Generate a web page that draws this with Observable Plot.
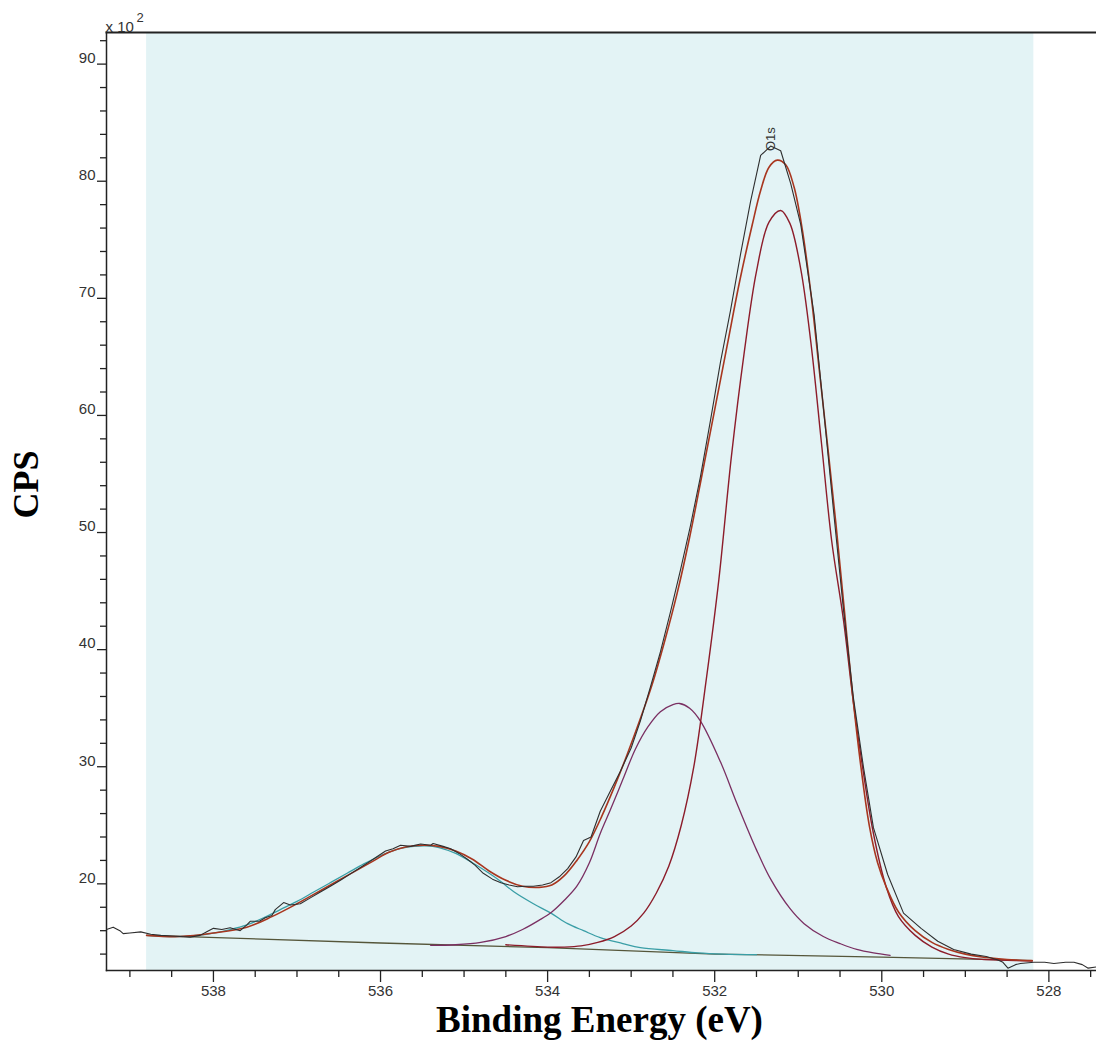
<!DOCTYPE html>
<html>
<head>
<meta charset="utf-8">
<script src="https://cdn.jsdelivr.net/npm/d3@7"></script>
<script src="https://cdn.jsdelivr.net/npm/@observablehq/plot@0.6"></script>
<style>
  html, body { margin: 0; padding: 0; background: #fff; }
  #chart { width: 1096px; height: 1041px; }
</style>
</head>
<body>
<div id="chart"></div>
<script>
// ---- axis extents and ticks (binding energy in eV, intensity in CPS x 10^2)
const xDomain = [539.28, 527.43];
const yDomain = [12.6, 92.7];
const xMajorTicks = [538, 536, 534, 532, 530, 528];
const xMinorTicks = [539, 538.5, 537.5, 537, 536.5, 535.5, 535, 534.5, 533.5, 533, 532.5, 531.5, 531, 530.5, 529.5, 529, 528.5, 527.5];
const yMajorTicks = [20, 30, 40, 50, 60, 70, 80, 90];
const yMinorTicks = [14, 16, 18, 22, 24, 26, 28, 32, 34, 36, 38, 42, 44, 46, 48, 52, 54, 56, 58, 62, 64, 66, 68, 72, 74, 76, 78, 82, 84, 86, 88, 92];

// ---- fitting region (shaded)
const regionStart = [538.8];
const regionEnd = [528.18];

// ---- raw spectrum
const rawE = [539.28, 539.20, 539.12, 539.08, 539.00, 538.87, 538.75, 538.63, 538.50, 538.40, 538.28, 538.16, 538.08, 538.00, 537.90, 537.80, 537.68, 537.60, 537.56, 537.45, 537.38, 537.30, 537.26, 537.16, 537.08, 536.96, 536.84, 536.72, 536.60, 536.48, 536.36, 536.24, 536.12, 535.94, 535.85, 535.76, 535.64, 535.52, 535.40, 535.37, 535.25, 535.16, 535.06, 534.96, 534.87, 534.77, 534.66, 534.56, 534.46, 534.36, 534.26, 534.17, 534.06, 533.96, 533.86, 533.76, 533.66, 533.57, 533.48, 533.37, 533.25, 533.13, 533.00, 532.89, 532.77, 532.65, 532.53, 532.41, 532.29, 532.17, 532.05, 531.93, 531.81, 531.69, 531.57, 531.45, 531.33, 531.21, 531.09, 530.97, 530.81, 530.67, 530.57, 530.46, 530.34, 530.22, 530.10, 529.93, 529.74, 529.53, 529.33, 529.14, 528.93, 528.75, 528.61, 528.55, 528.49, 528.40, 528.34, 528.18, 528.05, 527.94, 527.80, 527.70, 527.60, 527.53, 527.43];
const rawCps = [16.1, 16.3, 16.0, 15.75, 15.8, 15.9, 15.7, 15.6, 15.55, 15.5, 15.45, 15.6, 15.9, 16.2, 16.1, 16.25, 16.0, 16.5, 16.8, 16.8, 17.1, 17.3, 17.8, 18.4, 18.2, 18.3, 18.8, 19.3, 19.8, 20.3, 20.85, 21.4, 21.95, 22.8, 23.0, 23.3, 23.2, 23.4, 23.3, 23.45, 23.2, 23.0, 22.6, 22.1, 21.6, 20.9, 20.4, 20.1, 19.9, 19.75, 19.8, 19.8, 19.9, 20.1, 20.6, 21.3, 22.3, 23.7, 24.0, 26.2, 27.9, 29.6, 31.6, 33.9, 36.8, 39.8, 43.2, 46.8, 50.6, 54.8, 59.6, 64.6, 69.0, 73.8, 78.3, 82.2, 83.0, 82.6, 79.8, 76.3, 68.6, 58.6, 51.3, 43.5, 35.9, 30.0, 24.8, 20.8, 17.5, 16.2, 15.1, 14.4, 14.0, 13.8, 13.5, 13.3, 12.8, 13.1, 13.2, 13.3, 13.3, 13.2, 13.3, 13.3, 13.1, 12.8, 12.9];

// ---- fitted envelope
const envE = [538.80, 538.40, 538.00, 537.60, 537.30, 537.00, 536.70, 536.40, 536.10, 535.90, 535.70, 535.50, 535.30, 535.10, 534.90, 534.70, 534.50, 534.30, 534.10, 533.95, 533.80, 533.65, 533.50, 533.35, 533.20, 533.05, 532.90, 532.75, 532.60, 532.45, 532.30, 532.15, 532.00, 531.85, 531.70, 531.55, 531.45, 531.35, 531.25, 531.15, 531.05, 530.95, 530.85, 530.75, 530.65, 530.55, 530.45, 530.35, 530.25, 530.15, 530.05, 529.95, 529.80, 529.60, 529.40, 529.20, 529.00, 528.80, 528.60, 528.40, 528.20];
const envCps = [15.6, 15.5, 15.8, 16.3, 17.2, 18.3, 19.5, 20.7, 21.9, 22.7, 23.15, 23.3, 23.2, 22.8, 22.1, 21.1, 20.3, 19.8, 19.7, 19.9, 20.7, 22.0, 23.6, 25.8, 28.3, 31.0, 33.9, 37.0, 40.7, 44.8, 49.6, 55.0, 60.5, 66.0, 71.5, 76.3, 79.2, 81.2, 81.8, 81.4, 79.5, 75.8, 70.5, 64.0, 57.5, 50.8, 43.5, 36.2, 30.0, 25.0, 21.8, 19.8, 17.6, 16.0, 15.0, 14.4, 14.0, 13.75, 13.6, 13.5, 13.45];

// ---- component 1 (~535.5 eV)
const peak1E = [538.80, 538.50, 538.20, 538.00, 537.80, 537.60, 537.40, 537.20, 537.00, 536.80, 536.60, 536.40, 536.20, 536.00, 535.80, 535.60, 535.45, 535.30, 535.10, 534.90, 534.70, 534.56, 534.40, 534.17, 533.96, 533.76, 533.57, 533.37, 533.10, 532.89, 532.50, 532.20, 531.90, 531.50];
const peak1Cps = [15.6, 15.5, 15.6, 15.8, 16.1, 16.5, 17.1, 17.8, 18.5, 19.3, 20.1, 20.9, 21.7, 22.4, 22.95, 23.2, 23.25, 23.1, 22.6, 21.8, 20.9, 20.2, 19.3, 18.3, 17.5, 16.6, 16.0, 15.4, 14.9, 14.55, 14.3, 14.1, 14.0, 13.95];

// ---- component 2 (~532.4 eV)
const peak2E = [535.40, 535.10, 534.80, 534.50, 534.30, 534.10, 533.95, 533.80, 533.65, 533.50, 533.37, 533.25, 533.10, 532.95, 532.80, 532.65, 532.50, 532.42, 532.30, 532.17, 531.93, 531.73, 531.50, 531.33, 531.10, 530.93, 530.70, 530.50, 530.30, 530.10, 529.90];
const peak2Cps = [14.75, 14.8, 15.0, 15.5, 16.1, 16.9, 17.6, 18.6, 19.8, 21.8, 24.3, 26.3, 28.9, 31.5, 33.4, 34.7, 35.3, 35.4, 35.0, 33.9, 30.4, 26.8, 22.9, 20.4, 17.9, 16.6, 15.5, 14.9, 14.4, 14.1, 13.9];

// ---- component 3 (~531.2 eV)
const peak3E = [534.50, 534.00, 533.80, 533.60, 533.40, 533.20, 533.00, 532.85, 532.70, 532.55, 532.40, 532.25, 532.10, 531.95, 531.80, 531.65, 531.50, 531.35, 531.21, 531.10, 530.97, 530.85, 530.72, 530.60, 530.46, 530.34, 530.22, 530.10, 529.95, 529.80, 529.60, 529.40, 529.20, 529.00, 528.80, 528.60, 528.40, 528.20];
const peak3Cps = [14.8, 14.6, 14.6, 14.7, 15.0, 15.5, 16.4, 17.5, 19.2, 21.5, 25.0, 30.0, 37.5, 46.0, 56.5, 65.2, 72.3, 76.5, 77.5, 76.4, 72.5, 66.3, 57.5, 49.3, 42.6, 35.5, 29.5, 24.3, 19.8, 17.2, 15.6, 14.6, 14.0, 13.7, 13.55, 13.5, 13.45, 13.4];

// ---- background
const bgE = [538.80, 536.00, 534.00, 532.00, 530.00, 528.20];
const bgCps = [15.6, 14.95, 14.55, 14.0, 13.75, 13.45];

// ---- peak annotation
const annotText = ["O1s"];
const annotE = [531.33];
const annotCps = [83.0];

const toRows = (es, vs) => es.map((e, i) => ({e, v: vs[i]}));
const raw = toRows(rawE, rawCps);
const env = toRows(envE, envCps);
const p1 = toRows(peak1E, peak1Cps);
const p2 = toRows(peak2E, peak2Cps);
const p3 = toRows(peak3E, peak3Cps);
const bg = toRows(bgE, bgCps);
const annot = annotText.map((t, i) => ({t, e: annotE[i], v: annotCps[i]}));
const region = regionStart.map((s, i) => ({s, f: regionEnd[i]}));

const axisColor = "#222";
const tickFont = "Liberation Sans";

const chart = Plot.plot({
  width: 1096,
  height: 1041,
  marginLeft: 106,
  marginRight: 0,
  marginTop: 32,
  marginBottom: 71,
  style: {background: "#fff", fontFamily: tickFont, fontSize: "14px", color: "#333"},
  x: {domain: xDomain, axis: null},
  y: {domain: yDomain, axis: null},
  marks: [
    Plot.rect(region, {x1: "s", x2: "f", fill: "#e3f3f5"}),
    Plot.line(bg, {x: "e", y: "v", stroke: "#55563a", strokeWidth: 1.3}),
    Plot.line(p1, {x: "e", y: "v", stroke: "#3a9ea6", strokeWidth: 1.3, curve: "catmull-rom"}),
    Plot.line(p2, {x: "e", y: "v", stroke: "#7a2f62", strokeWidth: 1.3, curve: "catmull-rom"}),
    Plot.line(p3, {x: "e", y: "v", stroke: "#8c1c2a", strokeWidth: 1.4, curve: "catmull-rom"}),
    Plot.line(env, {x: "e", y: "v", stroke: "#a8361f", strokeWidth: 1.6, curve: "catmull-rom"}),
    Plot.line(raw, {x: "e", y: "v", stroke: "#2e2e2e", strokeWidth: 1.1}),
    Plot.text(annot, {x: "e", y: "v", text: "t", rotate: -90, textAnchor: "start", lineAnchor: "middle", dy: 5, fontSize: 13, fill: "#333", fontFamily: tickFont}),
    // axes lines
    Plot.frame({anchor: "left", stroke: axisColor, strokeWidth: 1.5}),
    Plot.frame({anchor: "bottom", stroke: axisColor, strokeWidth: 1.5}),
    Plot.frame({anchor: "top", stroke: axisColor, strokeWidth: 2}),
    // y ticks
    Plot.axisY(yMinorTicks, {tickSize: 6, fill: "none", stroke: axisColor, strokeWidth: 1.3, label: null}),
    Plot.axisY(yMajorTicks, {tickSize: 9, fill: "none", stroke: axisColor, strokeWidth: 1.3, label: null}),
    Plot.axisY(yMajorTicks, {tickSize: 0, tickPadding: 11, dy: -6, fill: "#333", fontSize: 15, label: null}),
    // x ticks
    Plot.axisX(xMinorTicks, {tickSize: 7, fill: "none", stroke: axisColor, strokeWidth: 1.3, label: null}),
    Plot.axisX(xMajorTicks, {tickSize: 12, fill: "none", stroke: axisColor, strokeWidth: 1.3, label: null}),
    Plot.axisX(xMajorTicks, {tickSize: 0, tickPadding: 15, fill: "#333", fontSize: 15, label: null}),
    // multiplier
    Plot.text(["x 10"], {frameAnchor: "top-left", textAnchor: "start", lineAnchor: "bottom", dx: -1, dy: -1, fontSize: 15, fill: "#333"}),
    Plot.text(["2"], {frameAnchor: "top-left", textAnchor: "start", lineAnchor: "bottom", dx: 30, dy: -11, fontSize: 13, fill: "#333"}),
    // axis titles
    Plot.text(["Binding Energy (eV)"], {frameAnchor: "bottom", lineAnchor: "bottom", dx: -2, dy: 61, fontFamily: "Liberation Serif", fontWeight: "bold", fontSize: 37, fill: "#000"}),
    Plot.text(["CPS"], {frameAnchor: "left", rotate: -90, lineAnchor: "bottom", dx: -69, dy: 17, fontFamily: "Liberation Serif", fontWeight: "bold", fontSize: 36, fill: "#000"})
  ]
});
document.getElementById("chart").appendChild(chart);
</script>
</body>
</html>
